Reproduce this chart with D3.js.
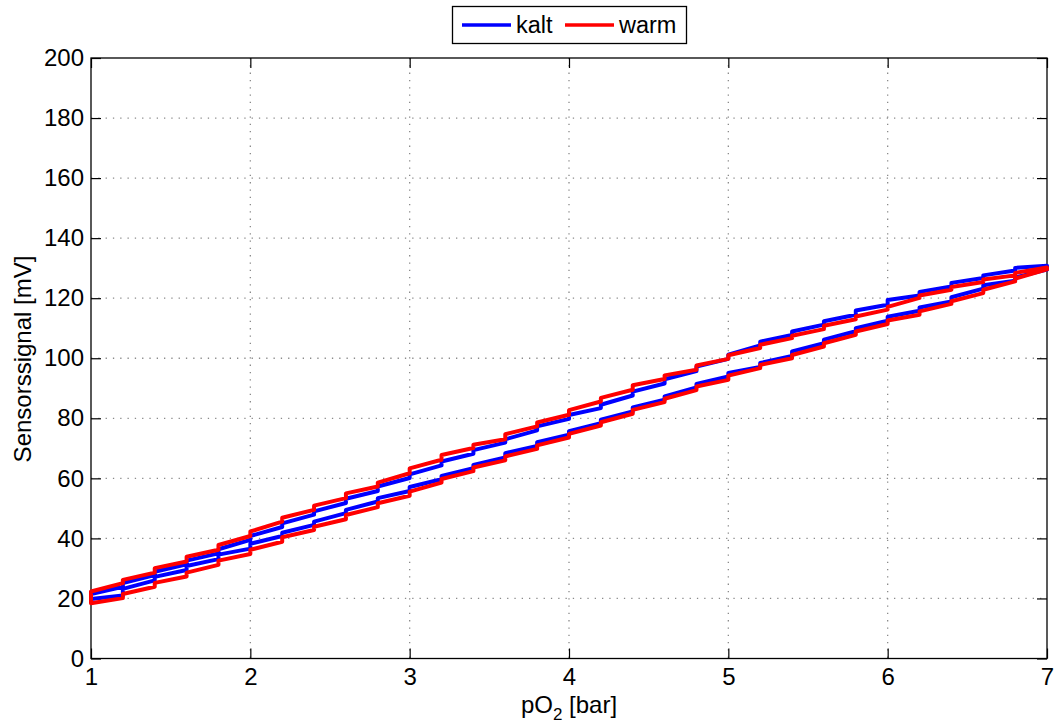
<!DOCTYPE html>
<html>
<head>
<meta charset="utf-8">
<script src="https://cdn.jsdelivr.net/npm/d3@7"></script>
<style>
  body { margin: 0; background: #fff; }
  text { font-family: "Liberation Sans", Arial, Helvetica, sans-serif; fill: #000; }
</style>
</head>
<body>
<script>
'use strict';

// pO2 Stufen [bar]
const steps = [1.0, 1.2, 1.4, 1.6, 1.8, 2.0, 2.2, 2.4, 2.6, 2.8, 3.0, 3.2, 3.4, 3.6, 3.8, 4.0,
    4.2, 4.4, 4.6, 4.8, 5.0, 5.2, 5.4, 5.6, 5.8, 6.0, 6.2, 6.4, 6.6, 6.8, 7.0]

// kalt, Druck steigend (untere Kurve): Wert vor / nach dem Sprung
const kaltLowPre = [19.8, 21.0, 26.0, 29.5, 33.1, 36.6, 40.8, 44.5, 48.4, 52.3, 55.8, 59.7, 63.4, 67.0, 70.8, 74.5,
    78.4, 82.3, 86.2, 90.3, 93.9, 97.1, 100.8, 105.0, 109.0, 112.5, 115.8, 118.9, 123.2, 125.8, 129.5]
const kaltLowPost = [19.8, 23.2, 27.2, 30.8, 34.6, 38.2, 41.9, 45.6, 49.5, 53.4, 57.1, 60.8, 64.5, 68.4, 72.0, 75.7,
    79.5, 83.6, 87.3, 91.4, 95.1, 98.4, 102.3, 106.2, 110.0, 113.8, 116.9, 120.3, 124.3, 126.9, 129.5]
// kalt, Druck fallend (obere Kurve)
const kaltHighPre = [21.5, 23.9, 27.8, 31.4, 35.0, 39.5, 43.8, 47.9, 51.8, 55.8, 60.1, 64.3, 68.2, 71.9, 76.0, 79.8,
    83.4, 87.6, 91.6, 95.7, 99.8, 104.3, 107.8, 111.2, 114.5, 117.8, 120.9, 123.9, 126.7, 129.2, 130.8]
const kaltHighPost = [21.5, 25.1, 28.9, 32.6, 36.4, 40.8, 45.0, 49.0, 53.2, 57.3, 61.3, 65.6, 69.4, 73.0, 77.3, 81.1,
    84.5, 88.9, 93.0, 97.2, 101.2, 105.5, 108.9, 112.3, 115.9, 119.4, 122.1, 125.1, 127.6, 130.1, 130.8]

// warm, Druck steigend
const warmLowPre = [18.4, 20.1, 23.9, 27.3, 31.2, 34.8, 38.9, 42.8, 46.4, 50.4, 54.2, 58.6, 62.4, 66.0, 69.8, 73.6,
    77.6, 81.5, 85.4, 89.4, 92.8, 96.7, 100.0, 103.9, 107.8, 111.4, 114.5, 118.1, 121.7, 125.6, 129.6]
const warmLowPost = [18.4, 21.5, 25.2, 28.6, 32.6, 36.2, 40.4, 43.9, 47.8, 51.7, 55.6, 59.8, 63.6, 67.3, 71.0, 74.8,
    78.7, 82.8, 86.5, 90.6, 94.2, 97.8, 101.1, 105.0, 108.9, 112.6, 115.6, 119.0, 122.8, 126.5, 129.6]
// warm, Druck fallend
const warmHighPre = [22.3, 25.1, 28.6, 32.3, 36.2, 40.8, 45.6, 49.5, 53.4, 57.3, 61.7, 66.2, 70.1, 73.0, 77.3, 81.2,
    85.6, 89.5, 93.1, 96.2, 99.8, 103.4, 106.7, 109.7, 113.0, 116.2, 120.1, 122.8, 125.4, 127.6, 130.2]
const warmHighPost = [22.3, 26.2, 30.1, 33.9, 37.8, 42.3, 46.9, 50.9, 55.0, 58.6, 63.3, 67.8, 71.2, 74.7, 78.6, 82.7,
    86.8, 91.0, 94.3, 97.6, 101.0, 104.5, 107.5, 110.8, 113.9, 117.1, 120.9, 123.7, 126.2, 128.4, 130.2]

const xTicks = [1, 2, 3, 4, 5, 6, 7]
const yTicks = [0, 20, 40, 60, 80, 100, 120, 140, 160, 180, 200]

const series = [
    { name: "kalt", color: "#0000ff", lowPre: kaltLowPre, lowPost: kaltLowPost, highPre: kaltHighPre, highPost: kaltHighPost },
    { name: "warm", color: "#ff0000", lowPre: warmLowPre, lowPost: warmLowPost, highPre: warmHighPre, highPost: warmHighPost }
]

const m = { left: 91, right: 1047, top: 58, bottom: 658.5 }

const svg = d3.select("body").append("svg")
    .attr("width", 1057)
    .attr("height", 724);

const x = d3.scaleLinear().domain([1, 7]).range([m.left, m.right]);
const y = d3.scaleLinear().domain([0, 200]).range([m.bottom, m.top]);

// grid
svg.append("g").selectAll("line")
    .data(xTicks.slice(1, -1))
    .enter().append("line")
    .attr("x1", d => x(d)).attr("x2", d => x(d))
    .attr("y1", m.top).attr("y2", m.bottom)
    .attr("stroke", "#8a8a8a")
    .attr("stroke-width", 1.3)
    .attr("stroke-dasharray", "1.3,6");
svg.append("g").selectAll("line")
    .data(yTicks.slice(1, -1))
    .enter().append("line")
    .attr("x1", m.left).attr("x2", m.right)
    .attr("y1", d => y(d)).attr("y2", d => y(d))
    .attr("stroke", "#8a8a8a")
    .attr("stroke-width", 1.3)
    .attr("stroke-dasharray", "1.3,6");

// axes (ticks inside, box)
svg.append("g")
    .attr("transform", "translate(0," + m.bottom + ")")
    .call(d3.axisBottom(x).tickValues(xTicks).tickSize(-10).tickPadding(9).tickFormat(d3.format("d")))
    .call(g => g.select(".domain").remove());
svg.append("g")
    .attr("transform", "translate(0," + m.top + ")")
    .call(d3.axisTop(x).tickValues(xTicks).tickSize(-10).tickFormat(""))
    .call(g => g.select(".domain").remove());
svg.append("g")
    .attr("transform", "translate(" + m.left + ",0)")
    .call(d3.axisLeft(y).tickValues(yTicks).tickSize(-10).tickPadding(7).tickFormat(d3.format("d")))
    .call(g => g.select(".domain").remove());
svg.append("g")
    .attr("transform", "translate(" + m.right + ",0)")
    .call(d3.axisRight(y).tickValues(yTicks).tickSize(-10).tickFormat(""))
    .call(g => g.select(".domain").remove());

svg.selectAll(".tick line").attr("stroke", "#000").attr("stroke-width", 1.2);
svg.selectAll(".tick text")
    .attr("font-size", "24px")
    .attr("font-family", "'Liberation Sans', Arial, sans-serif")
    .attr("fill", "#000");

svg.append("rect")
    .attr("x", m.left).attr("y", m.top)
    .attr("width", m.right - m.left).attr("height", m.bottom - m.top)
    .attr("fill", "none")
    .attr("stroke", "#000")
    .attr("stroke-width", 1.3);

// loops
const line = d3.line()
    .x(d => x(d[0]))
    .y(d => y(d[1]));

series.forEach(function (s) {
    let pts = []
    steps.forEach(function (p, i) {
        pts.push([p, s.lowPre[i]])
        pts.push([p, s.lowPost[i]])
    })
    for (let i = steps.length - 1; i >= 0; i--) {
        pts.push([steps[i], s.highPost[i]])
        pts.push([steps[i], s.highPre[i]])
    }
    pts.push(pts[0])
    svg.append("path")
        .datum(pts)
        .attr("d", line)
        .attr("fill", "none")
        .attr("stroke", s.color)
        .attr("stroke-width", 4)
        .attr("stroke-linejoin", "round")
        .attr("stroke-linecap", "round");
})

// axis labels
const xl = svg.append("text")
    .attr("x", 569).attr("y", 713)
    .attr("text-anchor", "middle")
    .attr("font-size", "24px");
xl.append("tspan").text("pO");
xl.append("tspan").attr("font-size", "17px").attr("dy", 7).text("2");
xl.append("tspan").attr("dy", -7).text(" [bar]");

svg.append("text")
    .attr("transform", "translate(31," + 359 + ") rotate(-90)")
    .attr("text-anchor", "middle")
    .attr("font-size", "24px")
    .text("Sensorssignal [mV]");

// legend
const lg = svg.append("g");
lg.append("rect")
    .attr("x", 452.5).attr("y", 6.5)
    .attr("width", 234).attr("height", 37)
    .attr("fill", "#fff")
    .attr("stroke", "#000")
    .attr("stroke-width", 1.3);
const legendX = [462, 565]
series.forEach(function (s, i) {
    lg.append("line")
        .attr("x1", legendX[i]).attr("x2", legendX[i] + 49)
        .attr("y1", 25).attr("y2", 25)
        .attr("stroke", s.color)
        .attr("stroke-width", 3.5);
    lg.append("text")
        .attr("x", legendX[i] + 54).attr("y", 33)
        .attr("font-size", "23.5px")
        .text(s.name);
})
</script>
</body>
</html>
